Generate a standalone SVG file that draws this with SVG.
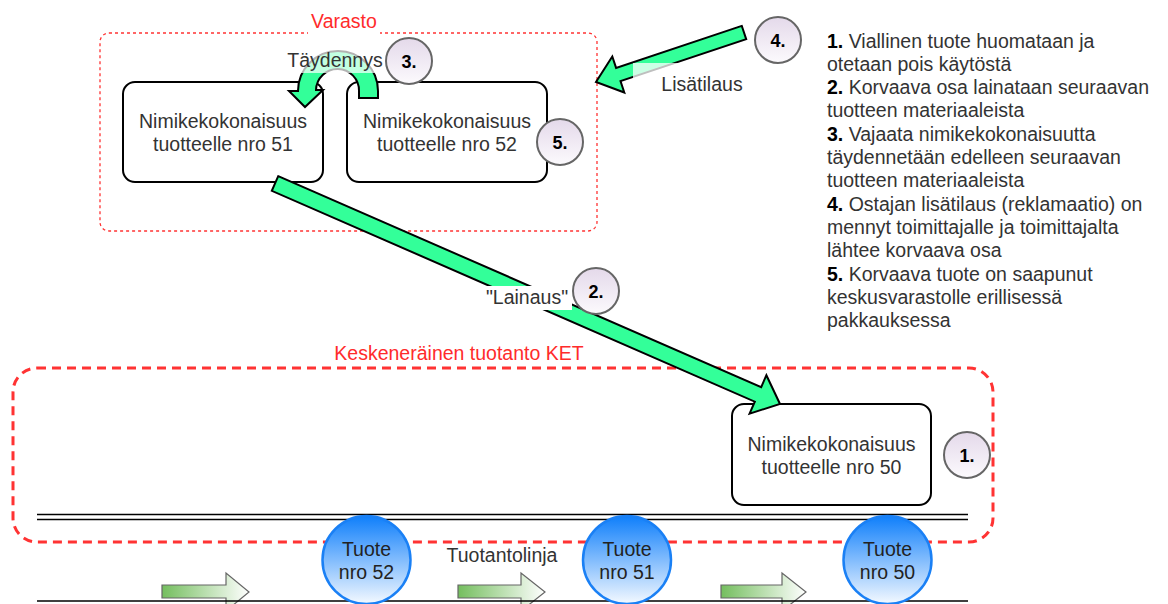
<svg xmlns="http://www.w3.org/2000/svg" width="1168" height="604" viewBox="0 0 1168 604">
<defs>
  <linearGradient id="gNum" x1="0" y1="0" x2="0" y2="1">
    <stop offset="0" stop-color="#e4d9ea"/>
    <stop offset="1" stop-color="#fcfafd"/>
  </linearGradient>
  <linearGradient id="gTuote" x1="0" y1="0" x2="0" y2="1">
    <stop offset="0" stop-color="#0f7ffb"/>
    <stop offset="1" stop-color="#f4f9ff"/>
  </linearGradient>
  <linearGradient id="gFlow" x1="0" y1="0" x2="1" y2="0">
    <stop offset="0" stop-color="#74be5e"/>
    <stop offset="1" stop-color="#ffffff"/>
  </linearGradient>
</defs>
<style>
  text { font-family: "Liberation Sans", Arial, sans-serif; }
  .node rect { fill: #ffffff; stroke: #000000; stroke-width: 2; }
  .ntxt { font-size: 19.5px; fill: #333333; text-anchor: middle; }
  .num circle { fill: url(#gNum); stroke: #666666; stroke-width: 2; }
  .num text { font-size: 18px; font-weight: bold; fill: #000000; text-anchor: middle; }
  .tuote circle { fill: url(#gTuote); stroke: #1a80f5; stroke-width: 2.5; }
  .tuote text { font-size: 19.5px; fill: #222222; text-anchor: middle; }
  .big { fill: #33ff99; stroke: #000000; stroke-width: 2; stroke-linejoin: miter; }
  .flow { fill: url(#gFlow); stroke: #666666; stroke-width: 1.2; }
  .lbl { font-size: 19.5px; fill: #333333; text-anchor: middle; }
  .red { font-size: 19.5px; fill: #ff2b2b; text-anchor: middle; }
  .legend { font-size: 19.5px; fill: #333333; }
  .legend tspan.b { font-weight: bold; fill: #000000; }
  .rail { stroke: #000000; stroke-width: 1.5; fill: none; }
</style>

<!-- Containers -->
<g id="varasto">
  <rect x="100" y="33" width="497" height="198" rx="9" fill="none" stroke="#ff3333" stroke-width="1.3" stroke-dasharray="3 3"/>
  <rect x="308" y="14" width="72" height="24" fill="#ffffff"/>
  <text class="red" x="344" y="28">Varasto</text>
</g>
<g id="ket">
  <rect x="13" y="368" width="980" height="174" rx="24" fill="none" stroke="#ff3333" stroke-width="3" stroke-dasharray="9 6"/>
  <text class="red" x="459" y="360">Keskeneräinen tuotanto KET</text>
</g>

<!-- Production line -->
<g id="tuotantolinja">
  <line class="rail" x1="37" y1="514.5" x2="968" y2="514.5"/>
  <line class="rail" x1="37" y1="519.5" x2="968" y2="519.5"/>
  <polygon class="flow" points="162,585 226,585 226,573 249,592 226,611 226,598 162,598"/>
  <polygon class="flow" points="458,585 521,585 521,573 545,592 521,611 521,598 458,598"/>
  <polygon class="flow" points="721,585 782,585 782,573 806,592 782,611 782,598 721,598"/>
  <line class="rail" x1="37" y1="601" x2="968" y2="601"/>
  <text class="lbl" x="502" y="562">Tuotantolinja</text>
</g>

<!-- Nodes -->
<g id="node51" class="node">
  <rect x="123" y="82" width="200" height="100" rx="12"/>
  <text class="ntxt" x="223" y="128">Nimikekokonaisuus</text>
  <text class="ntxt" x="223" y="151">tuotteelle nro 51</text>
</g>
<g id="node52" class="node">
  <rect x="347" y="82" width="200" height="100" rx="12"/>
  <text class="ntxt" x="447" y="128">Nimikekokonaisuus</text>
  <text class="ntxt" x="447" y="151">tuotteelle nro 52</text>
</g>
<g id="node50" class="node">
  <rect x="732" y="404" width="199" height="101" rx="12"/>
  <text class="ntxt" x="831.5" y="451">Nimikekokonaisuus</text>
  <text class="ntxt" x="831.5" y="474">tuotteelle nro 50</text>
</g>

<g id="tuote52" class="tuote">
  <circle cx="366.5" cy="560" r="44"/>
  <text x="366.5" y="556">Tuote</text>
  <text x="366.5" y="579">nro 52</text>
</g>
<g id="tuote51" class="tuote">
  <circle cx="627" cy="560" r="44"/>
  <text x="627" y="556">Tuote</text>
  <text x="627" y="579">nro 51</text>
</g>
<g id="tuote50" class="tuote">
  <circle cx="887.5" cy="560" r="44"/>
  <text x="887.5" y="556">Tuote</text>
  <text x="887.5" y="579">nro 50</text>
</g>

<!-- Connectors -->
<g id="connectors">
  <path id="taydennys" class="big" d="M 378 98 L 378 91 A 40 40 0 0 0 298 91 L 289 91 L 305 107 L 323 90 L 316 90 A 21.5 21.5 0 0 1 359 91 L 359 98 Z"/>
  <polygon id="lainaus" class="big" points="278.2,176.2 761.2,387.1 766.4,375.2 780,404 749.6,413.6 754.8,401.7 271.8,190.8"/>
  <polygon id="lisatilaus" class="big" points="741.8,25.9 616.1,67.9 612.3,56.5 596,82 624.3,92.5 620.5,81.1 746.2,39.1"/>
</g>

<!-- Connector labels -->
<g id="labels">
  <rect x="287" y="47" width="97" height="26" fill="#ffffff" fill-opacity="0.7"/>
  <text class="lbl" x="335" y="67">Täydennys</text>
  <rect x="633" y="63" width="137" height="37" fill="#ffffff" fill-opacity="0.75"/>
  <text class="lbl" x="702" y="91">Lisätilaus</text>
  <rect x="484" y="286" width="88" height="24" fill="#ffffff"/>
  <text class="lbl" x="527" y="304">"Lainaus"</text>
</g>

<!-- Number badges -->
<g id="num1" class="num"><circle cx="967" cy="455" r="23"/><text x="967" y="461.5">1.</text></g>
<g id="num2" class="num"><circle cx="596" cy="291" r="23"/><text x="596" y="297.5">2.</text></g>
<g id="num3" class="num"><circle cx="409" cy="61" r="23"/><text x="409" y="67.5">3.</text></g>
<g id="num4" class="num"><circle cx="778" cy="40" r="23"/><text x="778" y="46.5">4.</text></g>
<g id="num5" class="num"><circle cx="560" cy="142" r="23"/><text x="560" y="148.5">5.</text></g>

<!-- Legend -->
<g id="legend">
  <text class="legend" x="827" y="47.5"><tspan class="b">1.</tspan> Viallinen tuote huomataan ja</text>
  <text class="legend" x="827" y="70.8">otetaan pois käytöstä</text>
  <text class="legend" x="827" y="94.1"><tspan class="b">2.</tspan> Korvaava osa lainataan seuraavan</text>
  <text class="legend" x="827" y="117.4">tuotteen materiaaleista</text>
  <text class="legend" x="827" y="140.7"><tspan class="b">3.</tspan> Vajaata nimikekokonaisuutta</text>
  <text class="legend" x="827" y="164">täydennetään edelleen seuraavan</text>
  <text class="legend" x="827" y="187.3">tuotteen materiaaleista</text>
  <text class="legend" x="827" y="210.6"><tspan class="b">4.</tspan> Ostajan lisätilaus (reklamaatio) on</text>
  <text class="legend" x="827" y="233.9">mennyt toimittajalle ja toimittajalta</text>
  <text class="legend" x="827" y="257.2">lähtee korvaava osa</text>
  <text class="legend" x="827" y="280.5"><tspan class="b">5.</tspan> Korvaava tuote on saapunut</text>
  <text class="legend" x="827" y="303.8">keskusvarastolle erillisessä</text>
  <text class="legend" x="827" y="327.1">pakkauksessa</text>
</g>
</svg>
